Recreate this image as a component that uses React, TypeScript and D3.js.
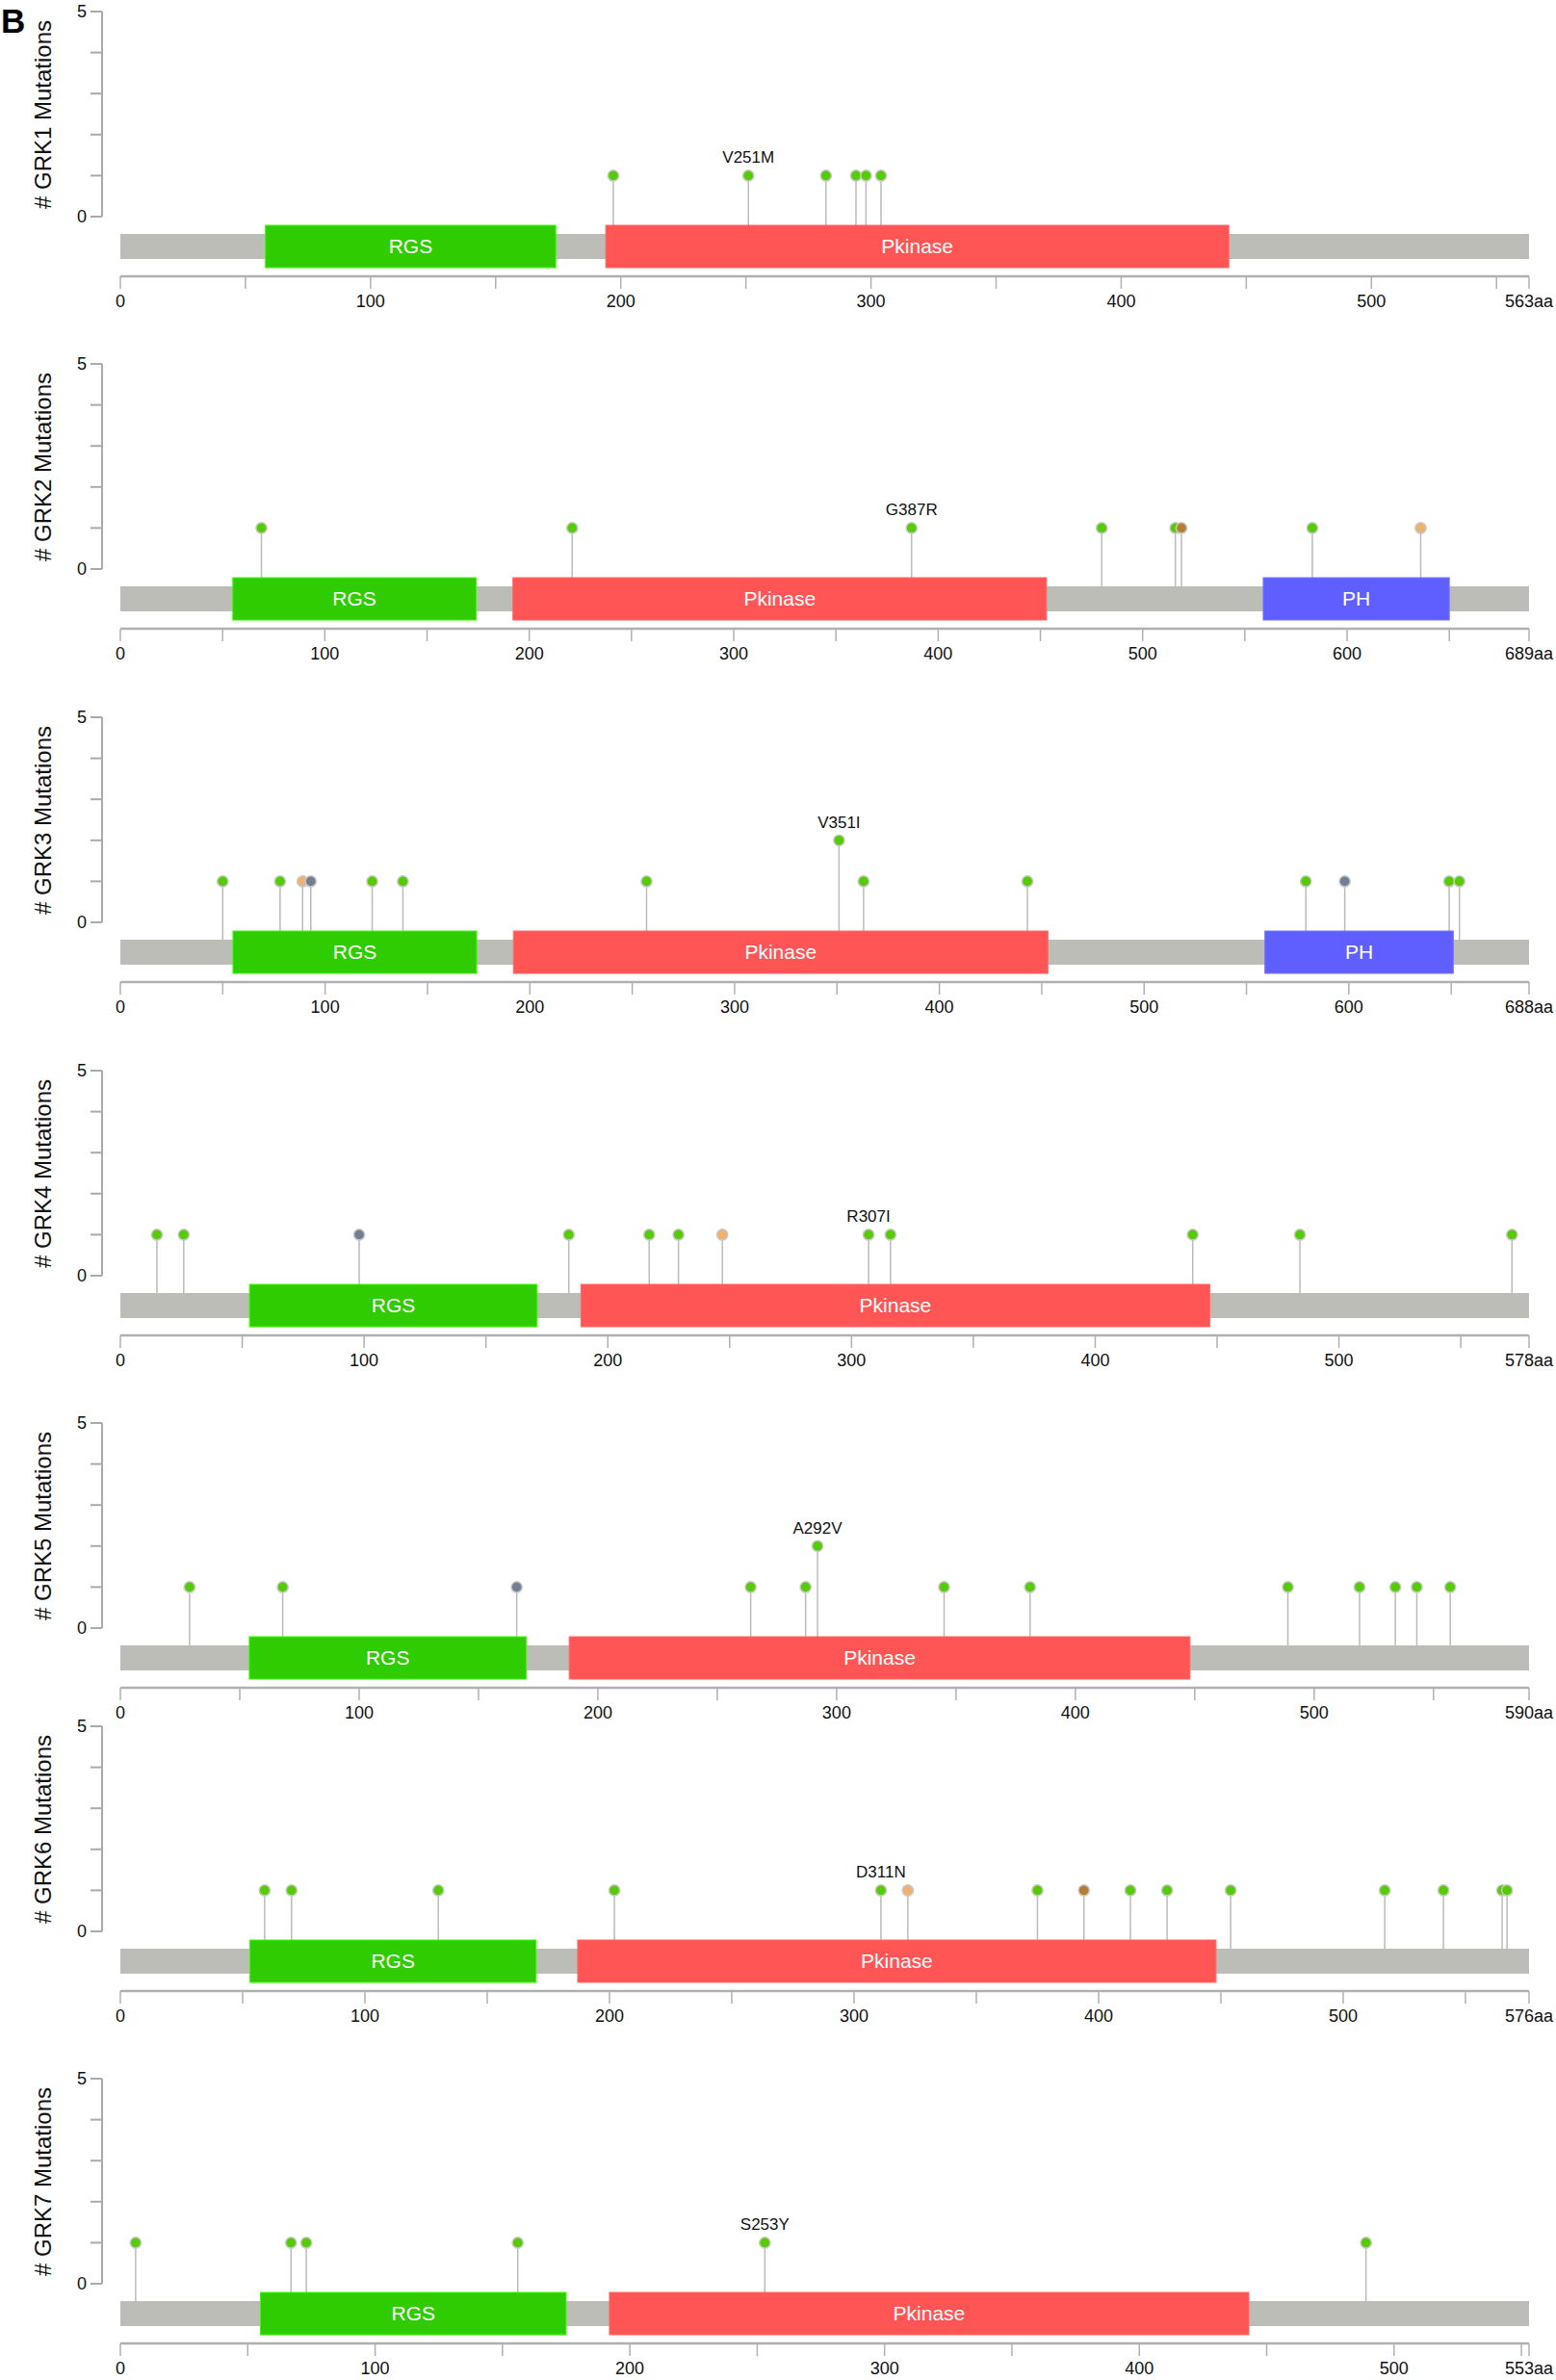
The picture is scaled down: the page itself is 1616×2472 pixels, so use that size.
import React from "react";
import * as d3 from "d3";

// ---------------- data ----------------
const genes = ["GRK1", "GRK2", "GRK3", "GRK4", "GRK5", "GRK6", "GRK7"];
const proteinLengths = [563, 689, 688, 578, 590, 576, 553];

const domainsGRK1 = [
  { name: "RGS", start: 58, end: 174 },
  { name: "Pkinase", start: 194, end: 443 },
];
const domainsGRK2 = [
  { name: "RGS", start: 55, end: 174 },
  { name: "Pkinase", start: 192, end: 453 },
  { name: "PH", start: 559, end: 650 },
];
const domainsGRK3 = [
  { name: "RGS", start: 55, end: 174 },
  { name: "Pkinase", start: 192, end: 453 },
  { name: "PH", start: 559, end: 651 },
];
const domainsGRK4 = [
  { name: "RGS", start: 53, end: 171 },
  { name: "Pkinase", start: 189, end: 447 },
];
const domainsGRK5 = [
  { name: "RGS", start: 54, end: 170 },
  { name: "Pkinase", start: 188, end: 448 },
];
const domainsGRK6 = [
  { name: "RGS", start: 53, end: 170 },
  { name: "Pkinase", start: 187, end: 448 },
];
const domainsGRK7 = [
  { name: "RGS", start: 55, end: 175 },
  { name: "Pkinase", start: 192, end: 443 },
];

// type: m = missense (green), s = tan, o = slate, i = brown
const mutationsGRK1 = [
  { pos: 197, count: 1, type: "m" },
  { pos: 251, count: 1, type: "m", label: "V251M" },
  { pos: 282, count: 1, type: "m" },
  { pos: 294, count: 1, type: "m" },
  { pos: 298, count: 1, type: "m" },
  { pos: 304, count: 1, type: "m" },
];
const mutationsGRK2 = [
  { pos: 69, count: 1, type: "m" },
  { pos: 221, count: 1, type: "m" },
  { pos: 387, count: 1, type: "m", label: "G387R" },
  { pos: 480, count: 1, type: "m" },
  { pos: 516, count: 1, type: "m" },
  { pos: 519, count: 1, type: "i" },
  { pos: 583, count: 1, type: "m" },
  { pos: 636, count: 1, type: "s" },
];
const mutationsGRK3 = [
  { pos: 50, count: 1, type: "m" },
  { pos: 78, count: 1, type: "m" },
  { pos: 89, count: 1, type: "s" },
  { pos: 93, count: 1, type: "o" },
  { pos: 123, count: 1, type: "m" },
  { pos: 138, count: 1, type: "m" },
  { pos: 257, count: 1, type: "m" },
  { pos: 351, count: 2, type: "m", label: "V351I" },
  { pos: 363, count: 1, type: "m" },
  { pos: 443, count: 1, type: "m" },
  { pos: 579, count: 1, type: "m" },
  { pos: 598, count: 1, type: "o" },
  { pos: 649, count: 1, type: "m" },
  { pos: 654, count: 1, type: "m" },
];
const mutationsGRK4 = [
  { pos: 15, count: 1, type: "m" },
  { pos: 26, count: 1, type: "m" },
  { pos: 98, count: 1, type: "o" },
  { pos: 184, count: 1, type: "m" },
  { pos: 217, count: 1, type: "m" },
  { pos: 229, count: 1, type: "m" },
  { pos: 247, count: 1, type: "s" },
  { pos: 307, count: 1, type: "m", label: "R307I" },
  { pos: 316, count: 1, type: "m" },
  { pos: 440, count: 1, type: "m" },
  { pos: 484, count: 1, type: "m" },
  { pos: 571, count: 1, type: "m" },
];
const mutationsGRK5 = [
  { pos: 29, count: 1, type: "m" },
  { pos: 68, count: 1, type: "m" },
  { pos: 166, count: 1, type: "o" },
  { pos: 264, count: 1, type: "m" },
  { pos: 287, count: 1, type: "m" },
  { pos: 292, count: 2, type: "m", label: "A292V" },
  { pos: 345, count: 1, type: "m" },
  { pos: 381, count: 1, type: "m" },
  { pos: 489, count: 1, type: "m" },
  { pos: 519, count: 1, type: "m" },
  { pos: 534, count: 1, type: "m" },
  { pos: 543, count: 1, type: "m" },
  { pos: 557, count: 1, type: "m" },
];
const mutationsGRK6 = [
  { pos: 59, count: 1, type: "m" },
  { pos: 70, count: 1, type: "m" },
  { pos: 130, count: 1, type: "m" },
  { pos: 202, count: 1, type: "m" },
  { pos: 311, count: 1, type: "m", label: "D311N" },
  { pos: 322, count: 1, type: "s" },
  { pos: 375, count: 1, type: "m" },
  { pos: 394, count: 1, type: "i" },
  { pos: 413, count: 1, type: "m" },
  { pos: 428, count: 1, type: "m" },
  { pos: 454, count: 1, type: "m" },
  { pos: 517, count: 1, type: "m" },
  { pos: 541, count: 1, type: "m" },
  { pos: 565, count: 1, type: "m" },
  { pos: 567, count: 1, type: "m" },
];
const mutationsGRK7 = [
  { pos: 6, count: 1, type: "m" },
  { pos: 67, count: 1, type: "m" },
  { pos: 73, count: 1, type: "m" },
  { pos: 156, count: 1, type: "m" },
  { pos: 253, count: 1, type: "m", label: "S253Y" },
  { pos: 489, count: 1, type: "m" },
];

const allDomains = [domainsGRK1, domainsGRK2, domainsGRK3, domainsGRK4, domainsGRK5, domainsGRK6, domainsGRK7];
const allMutations = [mutationsGRK1, mutationsGRK2, mutationsGRK3, mutationsGRK4, mutationsGRK5, mutationsGRK6, mutationsGRK7];

const yTickValues = [0, 1, 2, 3, 4, 5];

// ---------------- styles / layout ----------------
const domainColors: Record<string, string> = {
  RGS: "#2ECC00",
  Pkinase: "#FF5555",
  PH: "#5F5FFF",
};
const mutColors: Record<string, string> = {
  m: "#55CC00",
  s: "#F0B070",
  o: "#708090",
  i: "#B08030",
};

const W = 1616;
const H = 2472;
const X_START = 125;
const X_END = 1588;
const AXIS_X = 106;
const panelTops = [12, 378, 745, 1112, 1478, 1793, 2159];
const FONT = "'Liberation Sans', Arial, Helvetica, sans-serif";

function Panel({ idx }: { idx: number }) {
  const top = panelTops[idx];
  const len = proteinLengths[idx];
  const x = d3.scaleLinear().domain([0, len]).range([X_START, X_END]);
  const y = d3.scaleLinear().domain([0, 5]).range([top + 213, top]);
  const bbTop = top + 231;
  const bbH = 26;
  const bbMid = bbTop + bbH / 2;
  const domTop = top + 222;
  const domH = 44;
  const axY = top + 275;
  const xTicks = d3.range(0, len, 50).concat([len]);
  const xLabels = d3.range(0, len, 100);
  const muts = allMutations[idx];
  const doms = allDomains[idx];

  return (
    <g>
      {/* y axis */}
      <line x1={AXIS_X} x2={AXIS_X} y1={y(5)} y2={y(0)} stroke="#aaa" strokeWidth={2} />
      {yTickValues.map((t) => (
        <line key={t} x1={AXIS_X - 12} x2={AXIS_X} y1={y(t)} y2={y(t)} stroke="#aaa" strokeWidth={2} />
      ))}
      {[0, 5].map((t) => (
        <text key={t} x={AXIS_X - 16} y={y(t)} dy="0.35em" textAnchor="end" fontSize={18} fill="#111">
          {t}
        </text>
      ))}
      <text
        transform={`translate(45, ${top + 107}) rotate(-90)`}
        textAnchor="middle"
        dy="0.35em"
        fontSize={24}
        fill="#111"
      >
        {`# ${genes[idx]} Mutations`}
      </text>

      {/* stems */}
      {muts.map((m, k) => (
        <line key={k} x1={x(m.pos)} x2={x(m.pos)} y1={y(m.count)} y2={bbMid} stroke="#bbb" strokeWidth={1.5} />
      ))}

      {/* backbone */}
      <rect x={x(0)} y={bbTop} width={x(len) - x(0)} height={bbH} fill="#BBBDB6" />

      {/* domains */}
      {doms.map((d, k) => (
        <g key={k}>
          <rect
            x={x(d.start)}
            y={domTop}
            width={x(d.end) - x(d.start)}
            height={domH}
            fill={domainColors[d.name]}
            stroke={d3.color(domainColors[d.name])!.brighter(0.6).formatHex()}
            strokeWidth={1}
          />
          <text
            x={(x(d.start) + x(d.end)) / 2}
            y={domTop + domH / 2}
            dy="0.35em"
            textAnchor="middle"
            fontSize={21}
            fill="#fff"
          >
            {d.name}
          </text>
        </g>
      ))}

      {/* heads */}
      {muts.map((m, k) => (
        <circle key={k} cx={x(m.pos)} cy={y(m.count)} r={5.6} fill={mutColors[m.type]} stroke="#c8c8c8" strokeWidth={1.5} />
      ))}
      {muts
        .filter((m) => m.label)
        .map((m, k) => (
          <text key={k} x={x(m.pos)} y={y(m.count) - 13} textAnchor="middle" fontSize={17} fill="#111">
            {m.label}
          </text>
        ))}

      {/* x axis */}
      <line x1={x(0)} x2={x(len)} y1={axY} y2={axY} stroke="#b0b0b0" strokeWidth={2.5} />
      {xTicks.map((t) => (
        <line key={t} x1={x(t)} x2={x(t)} y1={axY} y2={axY + 13} stroke="#b0b0b0" strokeWidth={1.5} />
      ))}
      {xLabels.map((t) => (
        <text key={t} x={x(t)} y={axY + 26} dy="0.35em" textAnchor="middle" fontSize={18} fill="#111">
          {t}
        </text>
      ))}
      <text x={x(len)} y={axY + 26} dy="0.35em" textAnchor="middle" fontSize={18} fill="#111">
        {`${len}aa`}
      </text>
    </g>
  );
}

export default function App() {
  return (
    <svg
      width={W}
      height={H}
      viewBox={`0 0 ${W} ${H}`}
      style={{ position: "absolute", left: 0, top: 0, background: "#fff" }}
      fontFamily={FONT}
    >
      <rect x={0} y={0} width={W} height={H} fill="#fff" />
      <text x={1} y={34} fontSize={35} fontWeight="bold" fill="#000">
        B
      </text>
      {genes.map((g, i) => (
        <Panel key={g} idx={i} />
      ))}
    </svg>
  );
}
